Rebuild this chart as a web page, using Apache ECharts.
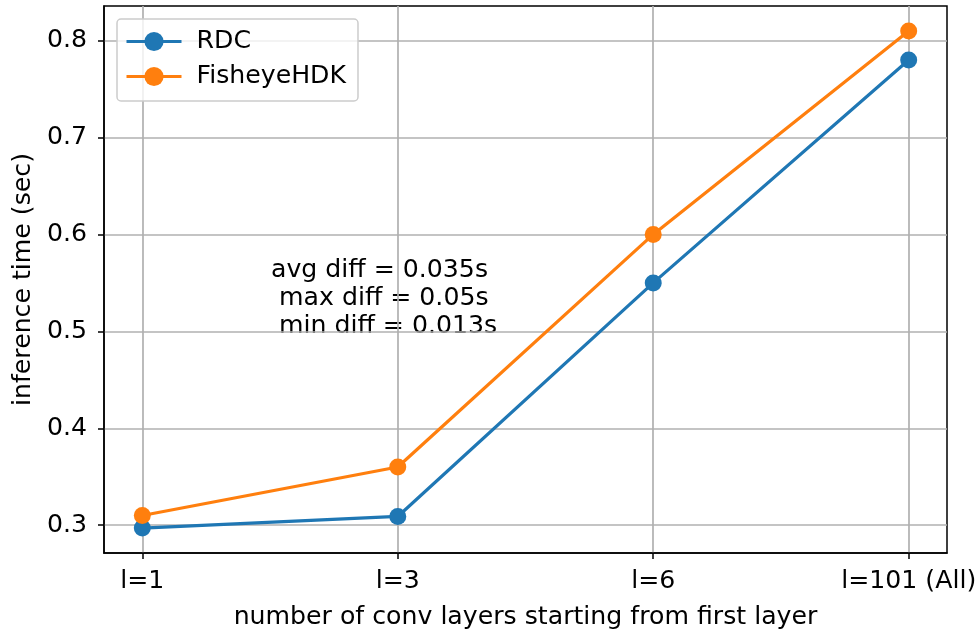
<!DOCTYPE html>
<html>
<head>
<meta charset="utf-8">
<script src="https://cdn.jsdelivr.net/npm/echarts@6/dist/echarts.min.js"></script>
<style>
  html, body { margin: 0; padding: 0; background: #fff; }
  #chart { width: 979px; height: 635px; }
</style>
</head>
<body>
<div id="chart"></div>
<script>
  // categories on the x axis
  const categories = ["l=1", "l=3", "l=6", "l=101 (All)"];
  // inference time in seconds
  const rdc = [0.297, 0.309, 0.55, 0.78];
  const fisheye = [0.31, 0.36, 0.60, 0.81];
  const yTicks = [0.3, 0.4, 0.5, 0.6, 0.7, 0.8];
  const xTicks = [0, 1, 2, 3];
  const notes = ["avg diff = 0.035s", " max diff = 0.05s", " min diff = 0.013s"];

  const font = "DejaVu Sans";
  const fs = 25.2;
  const chart = echarts.init(document.getElementById("chart"));

  const toPairs = (arr) => arr.map((v, i) => [i, v]);

  const option = {
    animation: false,
    textStyle: { fontFamily: font },
    grid: {
      left: 104, right: 32, top: 6, bottom: 82,
      outerBoundsMode: "none",
      containLabel: false,
      show: true, borderColor: "#000", borderWidth: 1.5, backgroundColor: "transparent"
    },
    xAxis: {
      type: "value",
      min: -0.15,
      max: 3.15,
      name: "number of conv layers starting from first layer",
      nameLocation: "middle",
      nameGap: 52,
      nameTextStyle: { fontSize: fs, color: "#000", fontFamily: font },
      axisLine: { show: true, onZero: false, lineStyle: { color: "#000", width: 1.5 } },
      axisTick: { show: true, customValues: xTicks, length: 6, lineStyle: { color: "#000", width: 1.5 } },
      axisLabel: {
        customValues: xTicks,
        fontSize: fs, color: "#000", margin: 16,
        formatter: (v) => categories[Math.round(v)]
      },
      splitLine: { show: true, lineStyle: { color: "#b0b0b0", width: 1.7 } }
    },
    yAxis: {
      type: "value",
      min: 0.2713,
      max: 0.8357,
      name: "inference time (sec)",
      nameLocation: "middle",
      nameGap: 68,
      nameRotate: 90,
      nameTextStyle: { fontSize: fs, color: "#000", fontFamily: font },
      axisLine: { show: true, onZero: false, lineStyle: { color: "#000", width: 1.5 } },
      axisTick: { show: true, customValues: yTicks, length: 6, lineStyle: { color: "#000", width: 1.5 } },
      axisLabel: {
        customValues: yTicks,
        fontSize: fs, color: "#000", margin: 17,
        formatter: (v) => v.toFixed(1)
      },
      splitLine: { show: true, lineStyle: { color: "#b0b0b0", width: 1.7 } }
    },
    legend: {
      orient: "vertical",
      left: 117,
      top: 19,
      padding: [10, 12, 12, 8],
      itemGap: 10,
      itemWidth: 55,
      itemHeight: 24,
      backgroundColor: "rgba(255,255,255,0.8)",
      borderColor: "#cccccc",
      borderWidth: 1.5,
      borderRadius: 4,
      textStyle: { fontSize: fs, color: "#000", fontFamily: font, padding: [0, 0, 0, 10] },
      data: [
        { name: "RDC", lineStyle: { width: 3 } },
        { name: "FisheyeHDK", lineStyle: { width: 3 } }
      ]
    },
    graphic: notes.map((t, i) => ({
      type: "text",
      left: 271,
      top: 258 + i * 28,
      style: { text: t, fontSize: fs, fill: "#000", fontFamily: font, whiteSpace: "pre" }
    })),
    series: [
      {
        name: "RDC",
        type: "line",
        data: toPairs(rdc),
        color: "#1f77b4",
        symbol: "circle",
        symbolSize: 17,
        lineStyle: { width: 3.2 },
        z: 2
      },
      {
        name: "FisheyeHDK",
        type: "line",
        data: toPairs(fisheye),
        color: "#ff7f0e",
        symbol: "circle",
        symbolSize: 17,
        lineStyle: { width: 3.2 },
        z: 3
      }
    ]
  };
  chart.setOption(option);
</script>
</body>
</html>
